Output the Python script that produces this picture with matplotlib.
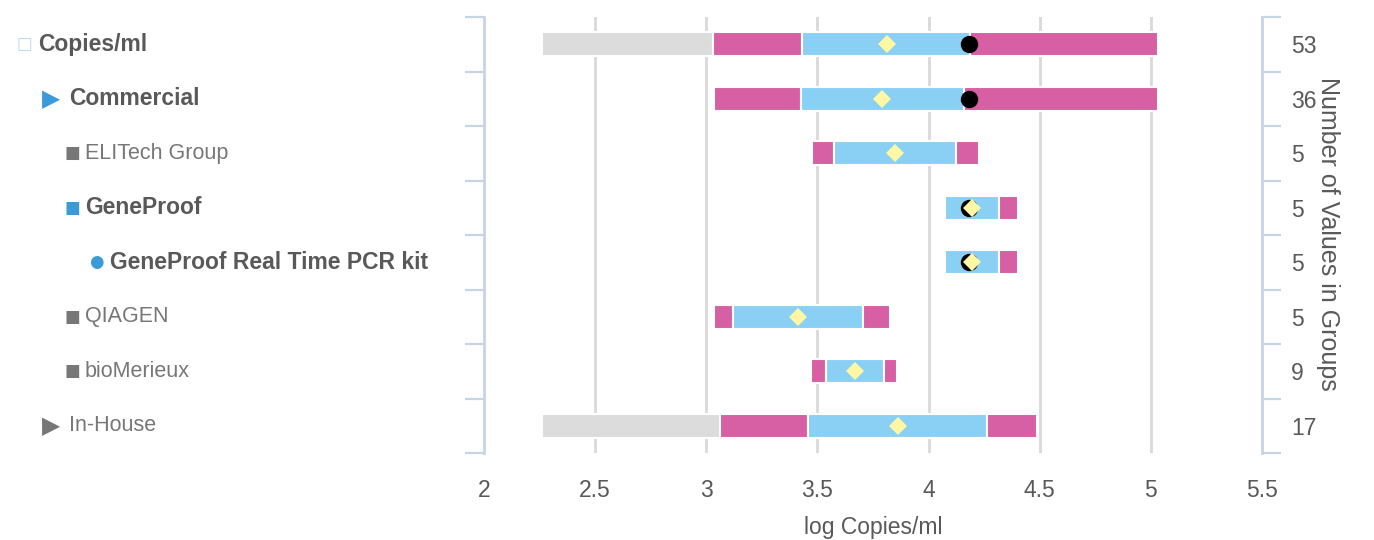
import matplotlib
matplotlib.use("Agg")
from matplotlib import pyplot as plt

# Data (log copies/ml), one entry per row, top to bottom
labels = ["Copies/ml", "Commercial", "ELITech Group", "GeneProof",
          "GeneProof Real Time PCR kit", "QIAGEN", "bioMerieux", "In-House"]
counts = ["53", "36", "5", "5", "5", "5", "9", "17"]
grey_start = [2.26, None, None, None, None, None, None, 2.26]
low = [3.03, 3.034, 3.475, 4.073, 4.073, 3.034, 3.472, 3.06]
q1 = [3.43, 3.425, 3.573, 4.073, 4.073, 3.12, 3.54, 3.457]
q3 = [4.185, 4.158, 4.122, 4.318, 4.318, 3.704, 3.798, 4.262]
high = [5.03, 5.03, 4.226, 4.402, 4.402, 3.826, 3.857, 4.489]
means = [3.811, 3.789, 3.851, 4.196, 4.196, 3.413, 3.671, 3.862]
ref_value = [4.18, 4.18, None, 4.18, 4.18, None, None, None]

# Row styling for the hierarchy on the left
icons = ["\u25a1", "\u25b6", "\u25a0", "\u25a0", "\u25cf", "\u25a0", "\u25a0", "\u25b6"]
icon_x = [17, 42, 64, 64, 89, 64, 64, 42]
text_x = [38, 69, 85, 85, 110, 85, 85, 69]
bold = [True, True, False, True, True, False, False, False]

GREY = "#dcdcdc"
PINK = "#d660a3"
BLUE = "#8ad0f4"
YELLOW = "#fff7a3"
SPINE = "#c6d4e6"
TEXT = "#595959"

plt.rcParams["font.family"] = ["Liberation Sans", "DejaVu Sans"]

fig = plt.figure(figsize=(13.74, 5.4), dpi=100)
W, H = 1374, 540
ax = fig.add_axes([484 / W, 1 - 453 / H, (1262 - 484) / W, (453 - 17) / H])

n = len(labels)
ys = [i + 0.5 for i in range(n)]
bh = 0.44

for i, y in enumerate(ys):
    if grey_start[i] is not None:
        ax.barh(y, low[i] - grey_start[i], left=grey_start[i], height=bh,
                color=GREY, edgecolor="white", linewidth=1.5, zorder=2)
    ax.barh(y, q1[i] - low[i], left=low[i], height=bh,
            color=PINK, edgecolor="white", linewidth=1.5, zorder=2)
    ax.barh(y, q3[i] - q1[i], left=q1[i], height=bh,
            color=BLUE, edgecolor="white", linewidth=1.5, zorder=2)
    ax.barh(y, high[i] - q3[i], left=q3[i], height=bh,
            color=PINK, edgecolor="white", linewidth=1.5, zorder=2)
    if ref_value[i] is not None:
        ax.plot(ref_value[i], y, "o", color="black", markersize=11.5, zorder=3)
    ax.plot(means[i], y, "D", color=YELLOW, markersize=8.8, markeredgewidth=0, zorder=4)

ax.set_xlim(2, 5.5)
ax.set_ylim(n, 0)
ax.set_xticks([2, 2.5, 3, 3.5, 4, 4.5, 5, 5.5])
ax.set_xticklabels(["2", "2.5", "3", "3.5", "4", "4.5", "5", "5.5"])
ax.tick_params(axis="x", length=0, pad=19, labelsize=16.5, labelcolor=TEXT)
ax.set_xlabel("log Copies/ml", fontsize=16.5, color=TEXT, labelpad=10)

for v in [2.5, 3, 3.5, 4, 4.5, 5]:
    ax.axvline(v, color="#d9d9d9", linewidth=2, zorder=1)

# Row boundaries as ticks on both side spines, counts on the right
ax.set_yticks(range(n + 1))
ax.set_yticklabels([])
ax.tick_params(axis="y", which="major", left=True, right=True, direction="out",
               length=14, width=1.6, color=SPINE)
ax.set_yticks(ys, minor=True)
ax.set_yticklabels(counts, minor=True)
ax.tick_params(axis="y", which="minor", left=False, right=True, labelleft=False,
               labelright=True, length=0, pad=21, labelsize=16.5, labelcolor=TEXT)

for side in ["top", "bottom"]:
    ax.spines[side].set_visible(False)
for side in ["left", "right"]:
    ax.spines[side].set_color(SPINE)
    ax.spines[side].set_linewidth(2)

fig.text(1328 / W, 1 - 234 / H, "Number of Values in Groups", rotation=-90,
         ha="center", va="center", fontsize=18, color=TEXT)

# Hierarchy labels on the left
for i, y in enumerate(ys):
    yf = 1 - (17 + y * (453 - 17) / n) / H
    if i == 0:
        icol = "#bcd8ee"
    elif i in (1, 3, 4):
        icol = "#3b9bd9"
    else:
        icol = "#777777"
    isize = 12 if icons[i] == "\u25a1" else (17 if icons[i] == "\u25b6" else 12)
    fig.text(icon_x[i] / W, yf, icons[i], ha="left", va="center",
             fontsize=isize, color=icol, family=["DejaVu Sans"])
    fig.text(text_x[i] / W, yf, labels[i], ha="left", va="center",
             fontsize=16.5 if bold[i] else 15.5, color=TEXT if bold[i] else "#777777",
             fontweight="bold" if bold[i] else "normal")

fig.savefig("out.png", dpi=100)
